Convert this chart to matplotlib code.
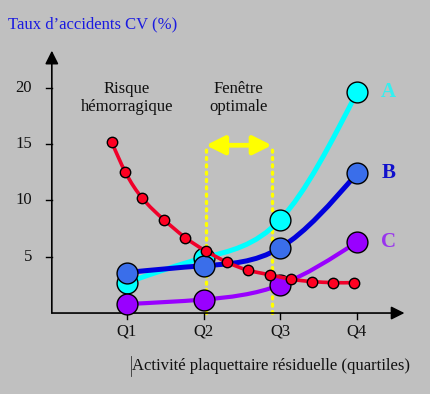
import numpy as np
import matplotlib
matplotlib.use("Agg")
import matplotlib.pyplot as plt
from matplotlib.path import Path
from matplotlib.patches import PathPatch

# ---- data ----
quartiles = [1, 2, 3, 4]
q_labels = ["Q1", "Q2", "Q3", "Q4"]
curve_a = [2.7, 4.9, 8.3, 19.6]
curve_b = [3.6, 4.2, 5.8, 12.4]
curve_c = [0.8, 1.2, 2.5, 6.3]
bleed_x = [0.80, 0.98, 1.20, 1.48, 1.76, 2.03, 2.31, 2.58, 2.86, 3.14, 3.41, 3.69, 3.96]
bleed_y = [15.2, 12.5, 10.2, 8.3, 6.7, 5.5, 4.5, 3.8, 3.4, 3.0, 2.8, 2.7, 2.7]
y_ticks = [5, 10, 15, 20]
window = [2.03, 2.89]
window_top = 14.9

BG = "#C0C0C0"
FONT = "Liberation Serif"


def smooth_path(xs, ys):
    """Natural cubic spline through the points, as cubic Bezier segments."""
    x = np.asarray(xs, float)
    y = np.asarray(ys, float)
    n = len(x)
    h = np.diff(x)
    A = np.zeros((n, n))
    r = np.zeros(n)
    A[0, 0] = A[-1, -1] = 1
    for i in range(1, n - 1):
        A[i, i - 1] = h[i - 1]
        A[i, i] = 2 * (h[i - 1] + h[i])
        A[i, i + 1] = h[i]
        r[i] = 6 * ((y[i + 1] - y[i]) / h[i] - (y[i] - y[i - 1]) / h[i - 1])
    m = np.linalg.solve(A, r)
    d = np.empty(n)
    for i in range(n - 1):
        d[i] = (y[i + 1] - y[i]) / h[i] - h[i] * (2 * m[i] + m[i + 1]) / 6
    d[-1] = (y[-1] - y[-2]) / h[-1] + h[-1] * (m[-2] + 2 * m[-1]) / 6
    verts = [(x[0], y[0])]
    codes = [Path.MOVETO]
    for i in range(n - 1):
        verts += [(x[i] + h[i] / 3, y[i] + d[i] * h[i] / 3),
                  (x[i + 1] - h[i] / 3, y[i + 1] - d[i + 1] * h[i] / 3),
                  (x[i + 1], y[i + 1])]
        codes += [Path.CURVE4] * 3
    return Path(verts, codes)


def curve(ax, xs, ys, lc, mc, lw, ms, z):
    ax.add_patch(PathPatch(smooth_path(xs, ys), fill=False, ec=lc, lw=lw,
                           capstyle="round", zorder=z))
    ax.plot(xs, ys, "o", ms=ms, mfc=mc, mec="black", mew=1.0, zorder=z + 0.5)


fig = plt.figure(figsize=(4.31, 3.94), dpi=100, facecolor=BG)
ax = fig.add_axes([0, 0, 1, 1])
ax.set_facecolor(BG)
# pixel mapping: Q1 at x=127, 76.67 px per quartile; y=0 at 313, 11.26 px per unit
ax.set_xlim(-0.656, 4.966)
ax.set_ylim(-7.19, 27.80)
ax.axis("off")

# axes with arrow heads
ax.annotate("", xy=(4.62, 0), xytext=(0.02, 0),
            arrowprops=dict(arrowstyle="-|>", color="black", lw=1.2,
                            mutation_scale=20, shrinkA=0, shrinkB=0))
ax.annotate("", xy=(0.02, 23.3), xytext=(0.02, 0),
            arrowprops=dict(arrowstyle="-|>", color="black", lw=1.2,
                            mutation_scale=20, shrinkA=0, shrinkB=0))
for t in y_ticks:
    ax.plot([-0.055, 0.02], [t, t], color="black", lw=1.0)
    ax.text(-0.24, t, str(t), ha="right", va="center", fontsize=12,
            family=FONT, color="#111111")
for q, lab in zip(quartiles, q_labels):
    ax.plot([q, q], [0, -0.5], color="black", lw=1.0)
    ax.text(q, -1.6, lab, ha="center", va="center", fontsize=12,
            family=FONT, color="#111111")

ax.text(-0.55, 25.6, "Taux d\u2019accidents CV (%)", ha="left", va="center",
        fontsize=12, family=FONT, color="#1A1AE0")
ax.text(1.07, -4.7, "Activité plaquettaire résiduelle (quartiles)", ha="left",
        va="center", fontsize=12, family=FONT, color="#111111")
ax.plot([1.05, 1.05], [-3.8, -5.6], color="#333333", lw=0.6)

ax.text(1.0, 19.1, "Risque\nhémorragique", ha="center", va="center",
        fontsize=12, family=FONT, linespacing=1.2, color="#111111")
ax.text(2.45, 19.1, "Fenêtre\noptimale", ha="center", va="center",
        fontsize=12, family=FONT, linespacing=1.2, color="#111111")

# optimal window
for wx in window:
    ax.plot([wx, wx], [0, window_top], color="#FFFF00", lw=2.4,
            ls=(0, (0.6, 1.6)), dash_capstyle="round", zorder=1)
ax.annotate("", xy=(window[1], window_top), xytext=(window[0], window_top),
            arrowprops=dict(arrowstyle="<|-|>", color="#FFFF00", lw=3.4,
                            mutation_scale=28, shrinkA=0, shrinkB=0), zorder=2)

curve(ax, quartiles, curve_a, "#00FFFF", "#00FFFF", 3.6, 15, 3)
curve(ax, quartiles, curve_b, "#0000DD", "#3A6EEA", 3.6, 15, 4)
curve(ax, quartiles, curve_c, "#9900FF", "#9900FF", 3.0, 15, 5)
curve(ax, bleed_x, bleed_y, "#F0002A", "#FF0022", 2.6, 7.5, 6)

ax.text(4.41, curve_a[3], "A", ha="center", va="center", fontsize=15,
        fontweight="bold", family=FONT, color="#33F0F0")
ax.text(4.41, curve_b[3], "B", ha="center", va="center", fontsize=15,
        fontweight="bold", family=FONT, color="#1010CC")
ax.text(4.41, curve_c[3], "C", ha="center", va="center", fontsize=15,
        fontweight="bold", family=FONT, color="#9933EE")

fig.savefig("out.png", dpi=100, facecolor=BG)
